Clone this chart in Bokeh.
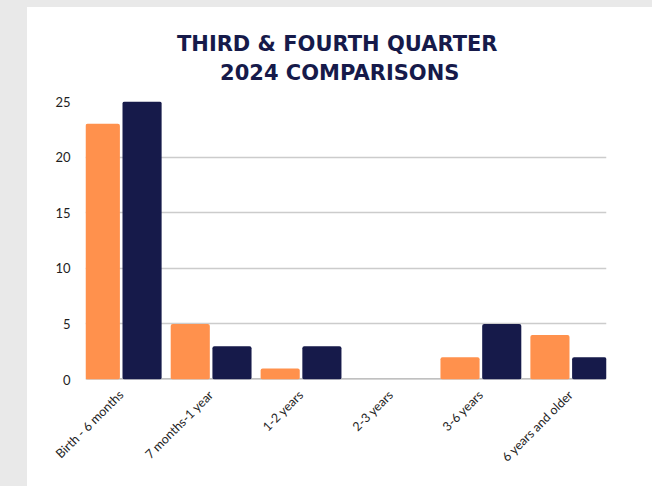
from math import pi
from bokeh.plotting import figure
from bokeh.models import FactorRange, Range1d, ColumnDataSource, Span, Div, FixedTicker
from bokeh.core.properties import value
from bokeh.layouts import row, column
from bokeh.transform import dodge
from bokeh.embed import file_html
from bokeh.resources import INLINE

categories = ["Birth - 6 months", "7 months-1 year", "1-2 years", "2-3 years",
              "3-6 years", "6 years and older"]
third_quarter = [23, 5, 1, 0, 2, 4]
fourth_quarter = [25, 3, 3, 0, 5, 2]
y_ticks = [0, 5, 10, 15, 20, 25]
title_lines = ["THIRD & FOURTH QUARTER", "2024 COMPARISONS"]

ORANGE = "#FF914D"
NAVY = "#161A4A"
GRAY_BG = "#e9e9e9"

W = 625

# ---- title strip (its own small figure, pixel coordinates) ----
th = 86
tf = figure(width=W, height=th, x_range=Range1d(0, W), y_range=Range1d(0, th),
            x_axis_type=None, y_axis_type=None, title=None,
            output_backend="svg", toolbar_location=None,
            min_border=0, min_border_left=0, min_border_right=0,
            min_border_top=0, min_border_bottom=0)
tf.outline_line_color = None
tf.grid.grid_line_color = None
tsrc = ColumnDataSource(dict(txt=title_lines, x=[302, 305], y=[49.5, 21.0]))
tf.text(x="x", y="y", text="txt", source=tsrc, text_align="center",
        text_baseline="alphabetic", text_font=value("DejaVu Sans"),
        text_font_style="bold", text_font_size="21px", text_color=NAVY)

# ---- main chart ----
src = ColumnDataSource(dict(cat=categories, q3=third_quarter, q4=fourth_quarter))

p = figure(x_range=FactorRange(*categories, range_padding=-0.103, range_padding_units="absolute"),
           y_range=Range1d(0, 25), width=W, height=393, title=None,
           output_backend="svg", toolbar_location=None,
           min_border_left=58, min_border_right=46, min_border_top=8, min_border_bottom=107)

p.vbar(x=dodge("cat", -0.232, range=p.x_range), top="q3", width=0.435, source=src,
       fill_color=ORANGE, line_color=None, border_radius=2)
p.vbar(x=dodge("cat", 0.232, range=p.x_range), top="q4", width=0.435, source=src,
       fill_color=NAVY, line_color=None, border_radius=2)

p.add_layout(Span(location=0, dimension="width", line_color="#ababab", line_width=2.5, level="underlay"))

p.outline_line_color = None
p.xgrid.grid_line_color = None
p.ygrid.grid_line_color = "#cccccc"
p.ygrid.grid_line_width = 1.5

p.yaxis.ticker = FixedTicker(ticks=y_ticks)
p.yaxis.axis_line_color = None
p.yaxis.major_tick_line_color = None
p.yaxis.minor_tick_line_color = None
p.yaxis.major_label_standoff = 9
p.yaxis.major_label_text_font = "Lato"
p.yaxis.major_label_text_font_size = "13px"
p.yaxis.major_label_text_color = "#1e1e1e"

p.xaxis.axis_line_color = None
p.xaxis.major_tick_line_color = None
p.xaxis.minor_tick_line_color = None
p.xaxis.major_label_orientation = pi / 4
p.xaxis.major_label_standoff = 7
p.xaxis.major_label_text_font = "Lato"
p.xaxis.major_label_text_font_size = "12.5px"
p.xaxis.major_label_text_color = "#1e1e1e"

left_strip = Div(text="", width=27, height=486, margin=0, styles={"background-color": GRAY_BG})
top_band = Div(text="", width=W, height=7, margin=0, styles={"background-color": GRAY_BG})
layout = row(left_strip, column(top_band, tf, p, spacing=0), spacing=0)

open("out.html", "w").write(file_html(layout, INLINE))
